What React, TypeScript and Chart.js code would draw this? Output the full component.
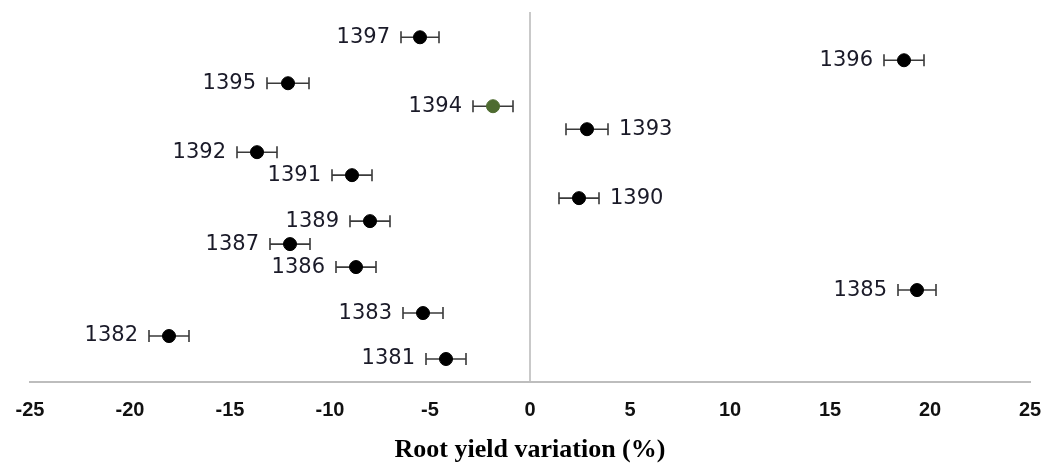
import React, { useEffect, useRef } from "react";
import { Chart, registerables } from "chart.js";

Chart.register(...registerables);

// Crop years (Persian calendar), top to bottom
const years = ["1397", "1396", "1395", "1394", "1393", "1392", "1391", "1390", "1389", "1387", "1386", "1385", "1383", "1382", "1381"];
// Vertical rank of each entry (1 = bottom)
const ranks = [15, 14, 13, 12, 11, 10, 9, 8, 7, 6, 5, 4, 3, 2, 1];
// Root yield variation (%)
const variation = [-5.5, 18.7, -12.1, -1.85, 2.85, -13.65, -8.9, 2.45, -8.0, -12.0, -8.7, 19.35, -5.35, -18.05, -4.2];
// Error (± %)
const errors = [0.95, 1.0, 1.05, 1.0, 1.05, 1.0, 1.0, 1.0, 1.0, 1.0, 1.0, 0.95, 1.0, 1.0, 1.0];
// Years whose label sits to the right of the marker
const rightLabeled = ["1393", "1390"];
const highlighted = ["1394"];
const xTicks = [-25, -20, -15, -10, -5, 0, 5, 10, 15, 20, 25];

const errorBarPlugin = {
  id: "errorBars",
  beforeDatasetsDraw(chart: any) {
    const { ctx, scales } = chart;
    const xs = scales.x;
    const ys = scales.y;
    ctx.save();
    ctx.strokeStyle = "#3a3a3a";
    ctx.lineWidth = 1.6;
    variation.forEach((v, i) => {
      const y = ys.getPixelForValue(ranks[i]);
      const x1 = xs.getPixelForValue(v - errors[i]);
      const x2 = xs.getPixelForValue(v + errors[i]);
      ctx.beginPath();
      ctx.moveTo(x1, y);
      ctx.lineTo(x2, y);
      ctx.moveTo(x1, y - 6);
      ctx.lineTo(x1, y + 6);
      ctx.moveTo(x2, y - 6);
      ctx.lineTo(x2, y + 6);
      ctx.stroke();
    });
    ctx.restore();
  },
  afterDatasetsDraw(chart: any) {
    const { ctx, scales } = chart;
    const xs = scales.x;
    const ys = scales.y;
    ctx.save();
    ctx.font = "21px 'DejaVu Sans', sans-serif";
    ctx.fillStyle = "#1a1a28";
    ctx.textBaseline = "middle";
    const gap = 11;
    years.forEach((yr, i) => {
      const y = ys.getPixelForValue(ranks[i]);
      if (rightLabeled.includes(yr)) {
        ctx.textAlign = "left";
        ctx.fillText(yr, xs.getPixelForValue(variation[i] + errors[i]) + gap, y);
      } else {
        ctx.textAlign = "right";
        ctx.fillText(yr, xs.getPixelForValue(variation[i] - errors[i]) - gap, y);
      }
    });
    ctx.restore();
  },
};

export default function App() {
  const ref = useRef<HTMLCanvasElement | null>(null);
  useEffect(() => {
    if (!ref.current) return;
    const colors = years.map((y) => (highlighted.includes(y) ? "#4e6b30" : "#000000"));
    const chart = new Chart(ref.current, {
      type: "scatter",
      data: {
        datasets: [
          {
            data: variation.map((v, i) => ({ x: v, y: ranks[i] })),
            backgroundColor: colors,
            borderColor: colors,
            pointRadius: 6.5,
            pointHoverRadius: 6.5,
          },
        ],
      },
      options: {
        animation: false,
        responsive: false,
        devicePixelRatio: 1,
        layout: { padding: { left: 30, right: 16, top: 12, bottom: 0 } },
        plugins: { legend: { display: false }, tooltip: { enabled: false } },
        scales: {
          y: { display: false, min: 0, max: 16.1 },
          x: {
            min: -25,
            max: 25,
            afterBuildTicks: (scale: any) => {
              scale.ticks = xTicks.map((v) => ({ value: v }));
            },
            afterFit: (scale: any) => {
              scale.height = 84;
              scale.paddingLeft = 0;
              scale.paddingRight = 0;
            },
            grid: {
              drawTicks: false,
              color: (c: any) => (c.tick && c.tick.value === 0 ? "#c9c9c9" : "rgba(0,0,0,0)"),
              lineWidth: 2,
            },
            border: { color: "#bdbdbd", width: 2 },
            ticks: {
              padding: 16,
              color: "#111111",
              font: { family: "'Liberation Sans', Arial, sans-serif", size: 20, weight: "bold" },
            },
            title: {
              display: true,
              text: "Root yield variation (%)",
              color: "#000000",
              font: { family: "'Liberation Serif', 'Times New Roman', serif", size: 26, weight: "bold" },
              padding: { top: 0, bottom: 0 },
            },
          },
        },
      },
      plugins: [errorBarPlugin],
    });
    return () => chart.destroy();
  }, []);
  return (
    <div style={{ position: "absolute", left: 0, top: 0, width: 1046, height: 466, background: "#fff" }}>
      <canvas ref={ref} width={1046} height={466} />
    </div>
  );
}
